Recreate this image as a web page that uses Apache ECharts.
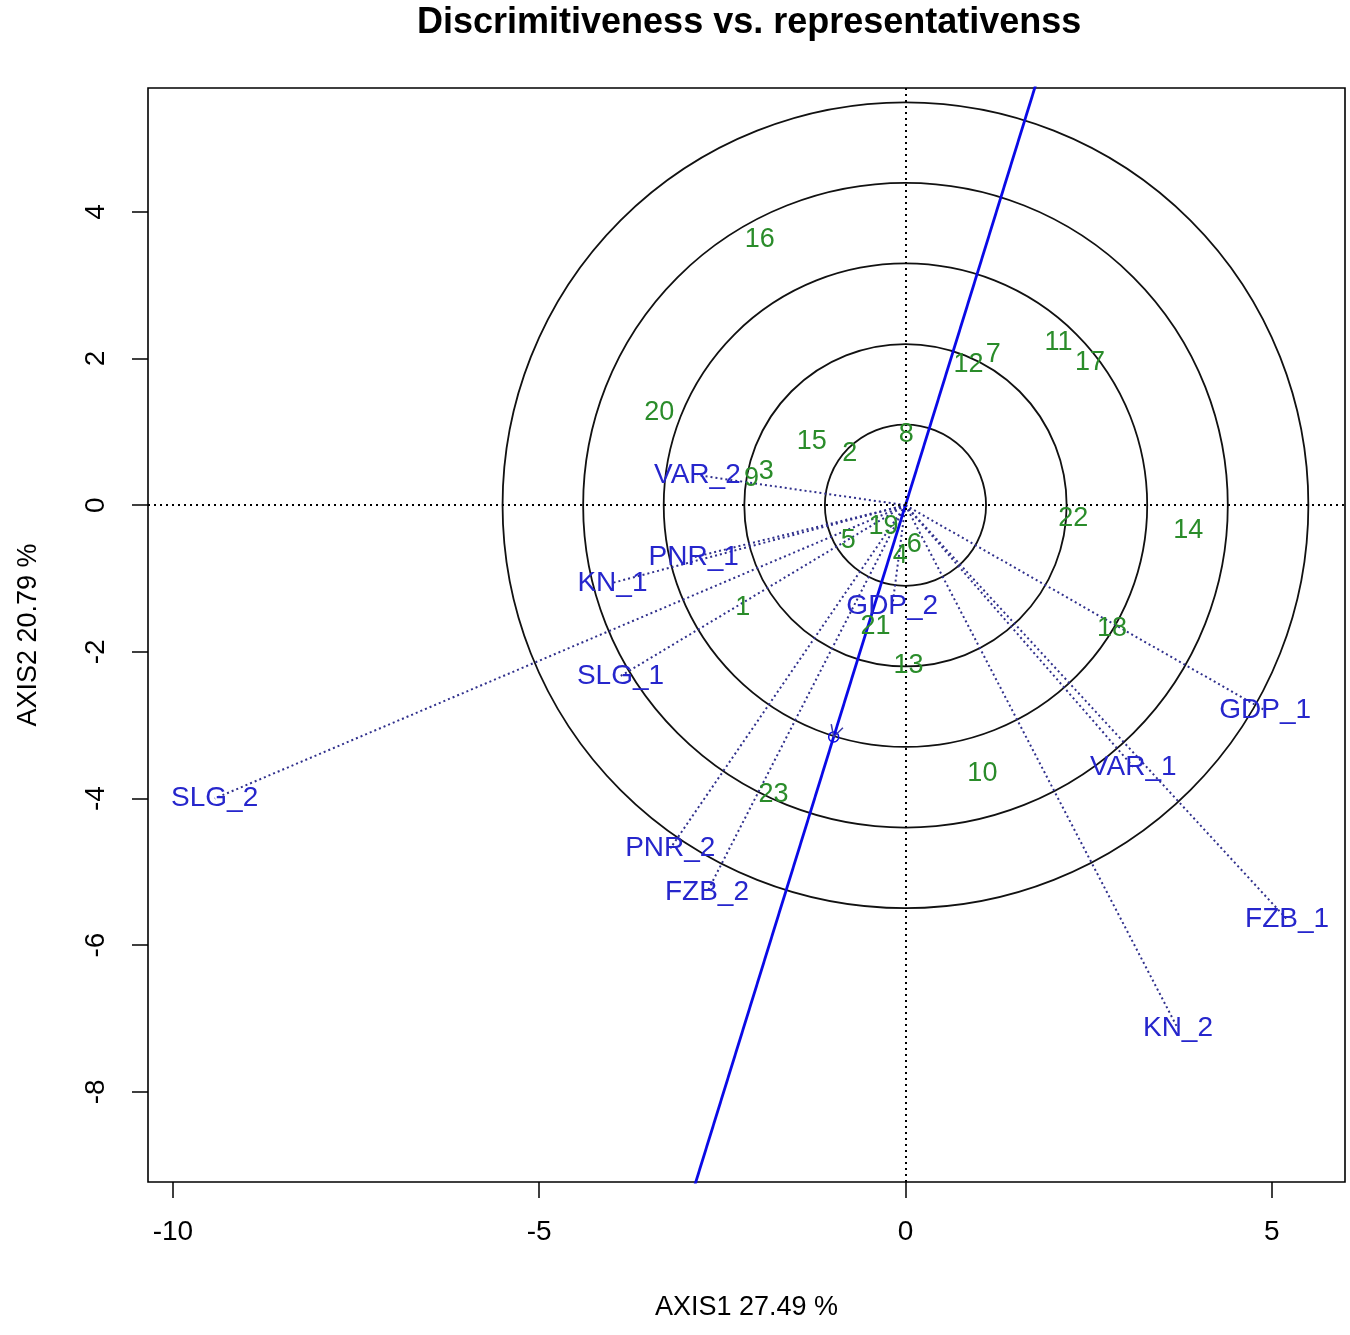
<!DOCTYPE html>
<html>
<head>
<meta charset="utf-8">
<title>Discrimitiveness vs. representativenss</title>
<script src="https://cdn.jsdelivr.net/npm/echarts@6/dist/echarts.min.js"></script>
<style>
  html, body { margin: 0; padding: 0; background: #fff; }
  #chart { width: 1350px; height: 1335px; }
</style>
</head>
<body>
<div id="chart"></div>
<script>
// tick labels
var xTicks = [-10, -5, 0, 5];
var yTicks = [-8, -6, -4, -2, 0, 2, 4];

// concentric circles (radius, axis units)
var circleRadii = [1.1, 2.2, 3.3, 4.4, 5.5];

// environments (vector ends)
var envNames = ['VAR_2', 'PNR_1', 'KN_1', 'SLG_1', 'SLG_2', 'GDP_2', 'PNR_2', 'FZB_2', 'GDP_1', 'VAR_1', 'FZB_1', 'KN_2'];
var envX = [-2.84, -2.89, -4.00, -3.89, -9.43, -0.18, -3.21, -2.71, 4.91, 3.11, 5.21, 3.72];
var envY = [0.41, -0.71, -1.06, -2.33, -4.00, -1.38, -4.68, -5.28, -2.80, -3.57, -5.65, -7.14];

// genotypes
var genoNames = ['1', '2', '3', '4', '5', '6', '7', '8', '9', '10', '11', '12',
                 '13', '14', '15', '16', '17', '18', '19', '20', '21', '22', '23'];
var genoX = [-2.22, -0.76, -1.90, -0.07, -0.78, 0.12, 1.20, 0.01, -2.10, 1.05, 2.09, 0.86,
             0.04, 3.86, -1.28, -1.99, 2.52, 2.82, -0.30, -3.36, -0.41, 2.29, -1.80];
var genoY = [-1.39, 0.70, 0.46, -0.68, -0.48, -0.53, 2.06, 0.97, 0.36, -3.66, 2.22, 1.92,
             -2.18, -0.34, 0.87, 3.62, 1.94, -1.68, -0.29, 1.27, -1.65, -0.18, -3.94];

// average environment point
var aeaPoint = [-0.98, -3.16];

var FONT = 'Liberation Sans';
var BLUE_TXT = '#2626cc';
var GREEN_TXT = '#2a8c2a';

var myChart = echarts.init(document.getElementById('chart'));

var envData = envNames.map(function (n, i) { return { name: n, value: [envX[i], envY[i]] }; });
var genoData = genoNames.map(function (n, i) { return { name: n, value: [genoX[i], genoY[i]] }; });

var option = {
  animation: false,
  backgroundColor: '#fff',
  title: {
    text: 'Discrimitiveness vs. representativenss',
    left: 412,
    top: 0,
    textStyle: { fontFamily: FONT, fontWeight: 'bold', fontSize: 36, color: '#000' }
  },
  grid: {
    left: 148, top: 88, width: 1197, height: 1094,
    show: true, borderColor: '#000', borderWidth: 1.6, backgroundColor: 'transparent'
  },
  xAxis: {
    type: 'value',
    min: -10.34, max: 6.0,
    name: 'AXIS1 27.49 %',
    nameLocation: 'middle',
    nameGap: 112,
    nameTextStyle: { fontFamily: FONT, fontSize: 27, color: '#000' },
    splitLine: { show: false },
    axisLine: { show: false, onZero: false },
    axisTick: { show: true, length: 16, customValues: xTicks, lineStyle: { color: '#000', width: 1.5 } },
    axisLabel: { customValues: xTicks, margin: 36, fontFamily: FONT, fontSize: 28, color: '#000' }
  },
  yAxis: {
    type: 'value',
    min: -9.23, max: 5.69,
    name: 'AXIS2 20.79 %',
    nameLocation: 'middle',
    nameRotate: 90,
    nameGap: 106,
    nameTextStyle: { fontFamily: FONT, fontSize: 27, color: '#000' },
    splitLine: { show: false },
    axisLine: { show: false, onZero: false },
    axisTick: { show: true, length: 16, customValues: yTicks, lineStyle: { color: '#000', width: 1.5 } },
    axisLabel: { customValues: yTicks, rotate: 90, margin: 38, fontFamily: FONT, fontSize: 28, color: '#000' }
  },
  series: [
    {
      // circles round the origin
      type: 'custom',
      z: 1,
      clip: true,
      encode: { x: 0, y: 1 },
      data: circleRadii.map(function (r) { return [0, 0, r]; }),
      renderItem: function (params, api) {
        var c = api.coord([0, 0]);
        var s = api.size([api.value(2), api.value(2)]);
        return {
          type: 'circle',
          shape: { cx: c[0], cy: c[1], r: s[0] },
          style: { fill: 'none', stroke: '#111', lineWidth: 1.8 }
        };
      }
    },
    {
      // environment vectors
      type: 'custom',
      z: 2,
      clip: true,
      encode: { x: 0, y: 1 },
      data: envData.map(function (d) { return d.value; }),
      renderItem: function (params, api) {
        var o = api.coord([0, 0]);
        var p = api.coord([api.value(0), api.value(1)]);
        return {
          type: 'line',
          shape: { x1: o[0], y1: o[1], x2: p[0], y2: p[1] },
          style: { stroke: '#30308c', lineWidth: 2, lineDash: [2, 3] }
        };
      }
    },
    {
      // average environment axis
      type: 'line',
      z: 3,
      clip: true,
      showSymbol: false,
      silent: true,
      data: [[aeaPoint[0] * 3, aeaPoint[1] * 3], [aeaPoint[0] * -1.9, aeaPoint[1] * -1.9]],
      lineStyle: { color: '#0a0ae6', width: 2.8 }
    },
    {
      // average environment marker + arrow head
      type: 'custom',
      z: 4,
      encode: { x: 0, y: 1 },
      data: [aeaPoint],
      renderItem: function (params, api) {
        var o = api.coord([0, 0]);
        var p = api.coord([api.value(0), api.value(1)]);
        var dx = p[0] - o[0], dy = p[1] - o[1];
        var len = Math.sqrt(dx * dx + dy * dy);
        var ux = dx / len, uy = dy / len;
        var a = 28 * Math.PI / 180, L = 13;
        function arm(sign) {
          var c = Math.cos(sign * a), s = Math.sin(sign * a);
          var rx = ux * c - uy * s, ry = ux * s + uy * c;
          return [p[0] - L * rx, p[1] - L * ry];
        }
        var a1 = arm(1), a2 = arm(-1);
        return {
          type: 'group',
          children: [
            { type: 'circle', shape: { cx: p[0], cy: p[1], r: 5 }, style: { fill: 'none', stroke: '#0a0ae6', lineWidth: 1.5 } },
            { type: 'line', shape: { x1: p[0], y1: p[1], x2: a1[0], y2: a1[1] }, style: { stroke: '#3b3ba6', lineWidth: 1.5 } },
            { type: 'line', shape: { x1: p[0], y1: p[1], x2: a2[0], y2: a2[1] }, style: { stroke: '#3b3ba6', lineWidth: 1.5 } }
          ]
        };
      }
    },
    {
      // environment labels
      type: 'scatter',
      z: 5,
      symbolSize: 0,
      silent: true,
      itemStyle: { opacity: 1 },
      data: envData,
      label: {
        show: true, position: 'inside', formatter: '{b}',
        fontFamily: FONT, fontSize: 28, color: BLUE_TXT,
        textBorderWidth: 0, opacity: 1
      },
      markLine: {
        silent: true,
        symbol: 'none',
        label: { show: false },
        lineStyle: { color: '#000', type: [2, 4], width: 2 },
        data: [{ xAxis: 0 }, { yAxis: 0 }]
      }
    },
    {
      // genotype labels
      type: 'scatter',
      z: 6,
      symbolSize: 0,
      silent: true,
      itemStyle: { opacity: 1 },
      data: genoData,
      label: {
        show: true, position: 'inside', formatter: '{b}',
        fontFamily: FONT, fontSize: 27, color: GREEN_TXT,
        textBorderWidth: 0, opacity: 1
      }
    }
  ]
};

myChart.setOption(option);
</script>
</body>
</html>
